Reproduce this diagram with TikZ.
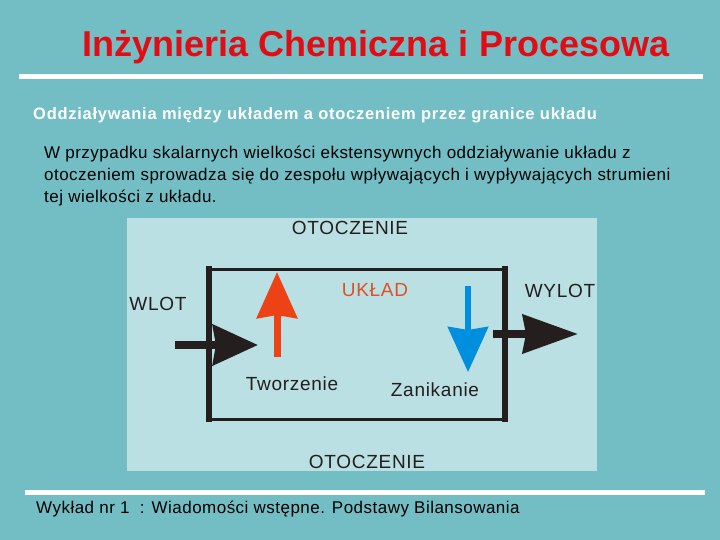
\documentclass[tikz,border=0pt]{standalone}
\usepackage{fontspec}
\setmainfont{Liberation Sans}[LetterSpace=2.8]
\newfontfamily\titlefont{Liberation Sans}
\newfontfamily\subtitlefont{Liberation Sans}[LetterSpace=4.5]
\newfontfamily\labelfont{Liberation Sans}[LetterSpace=3.8]
\usetikzlibrary{arrows.meta, positioning}
\definecolor{slideBg}{RGB}{114,190,196}
\definecolor{panelBg}{RGB}{186,224,228}
\definecolor{titleRed}{RGB}{226,12,20}
\definecolor{ukladRed}{RGB}{222,80,38}
\definecolor{upRed}{RGB}{236,66,22}
\definecolor{downBlue}{RGB}{0,142,222}
\definecolor{flowBlack}{RGB}{36,30,30}
\begin{document}
\begin{tikzpicture}[x=1pt, y=-1pt,
    lbl/.style={inner sep=0pt, text=flowBlack, font=\labelfont\fontsize{19}{21}\selectfont},
    bodytext/.style={inner sep=0pt, font=\fontsize{17}{22}\selectfont},
    flow/.style={line width=8pt, flowBlack, -{Stealth[length=45pt, width=40pt, inset=3pt]}},
    rule/.style={white, line width=5pt}]
    \useasboundingbox (0,0) rectangle (720,540);
    \fill[slideBg] (0,0) rectangle (720,540);
    % header
    \node[font=\titlefont\fontsize{36}{40}\selectfont\bfseries, text=titleRed] (title) at (376,47) {Inżynieria Chemiczna i Procesowa};
    \draw[rule] (19,77) -- (703,77);
    \node[bodytext, font=\subtitlefont\fontsize{16.5}{20}\selectfont\bfseries, text=white, anchor=west] (subtitle) at (33,115)
      {Oddziaływania między układem a otoczeniem przez granice układu};
    \node[bodytext, anchor=north west, align=left] (para) at (44,146)
      {W przypadku skalarnych wielkości ekstensywnych oddziaływanie układu z\\
       otoczeniem sprowadza się do zespołu wpływających i wypływających strumieni\\
       tej wielkości z układu.};
    % diagram
    \fill[panelBg] (127,218) rectangle (597,471);
    \node[draw=flowBlack, line width=3pt, minimum width=293pt, minimum height=150pt, inner sep=0pt] (uklad box) at (356.5,344) {};
    \draw[flowBlack, line width=6pt, shorten <=-1.5pt, shorten >=-1.5pt] (uklad box.north west) -- (uklad box.south west);
    \draw[flowBlack, line width=6pt, shorten <=-1.5pt, shorten >=-1.5pt] (uklad box.north east) -- (uklad box.south east);
    \node[lbl] (otoczenie top) at (350,228) {OTOCZENIE};
    \node[lbl] (otoczenie bottom) at (367,462) {OTOCZENIE};
    \node[lbl, text=ukladRed] (uklad) at (375,290) {UKŁAD};
    \node[lbl] (wlot) at (158,304) {WLOT};
    \node[lbl] (wylot) at (560,291) {WYLOT};
    \node[lbl] (tworzenie) at (292,384) {Tworzenie};
    \node[lbl] (zanikanie) at (435,390) {Zanikanie};
    \coordinate (wlot start) at (175,345);
    \coordinate (wlot tip) at (258,345);
    \coordinate (wylot start) at (493,334);
    \coordinate (wylot tip) at (578,334);
    \coordinate (tworz start) at (277,357);
    \coordinate (tworz tip) at (277,272);
    \coordinate (zanik start) at (468,286);
    \coordinate (zanik tip) at (468,372);
    \draw[flow] (wlot start) -- (wlot tip);
    \draw[flow, -{Stealth[length=55pt, width=38pt, inset=3pt]}] (wylot start) -- (wylot tip);
    \draw[flow, upRed, line width=7pt, -{Stealth[length=46pt, width=40pt, inset=3pt]}] (tworz start) -- (tworz tip);
    \draw[flow, downBlue, line width=6pt, -{Stealth[length=45pt, width=40pt, inset=3pt]}] (zanik start) -- (zanik tip);
    % footer
    \draw[rule] (25,492) -- (705,492);
    \node[bodytext, anchor=west] (footer) at (36,509) {Wykład nr 1\ \ : Wiadomości wstępne. Podstawy Bilansowania};
\end{tikzpicture}
\end{document}
